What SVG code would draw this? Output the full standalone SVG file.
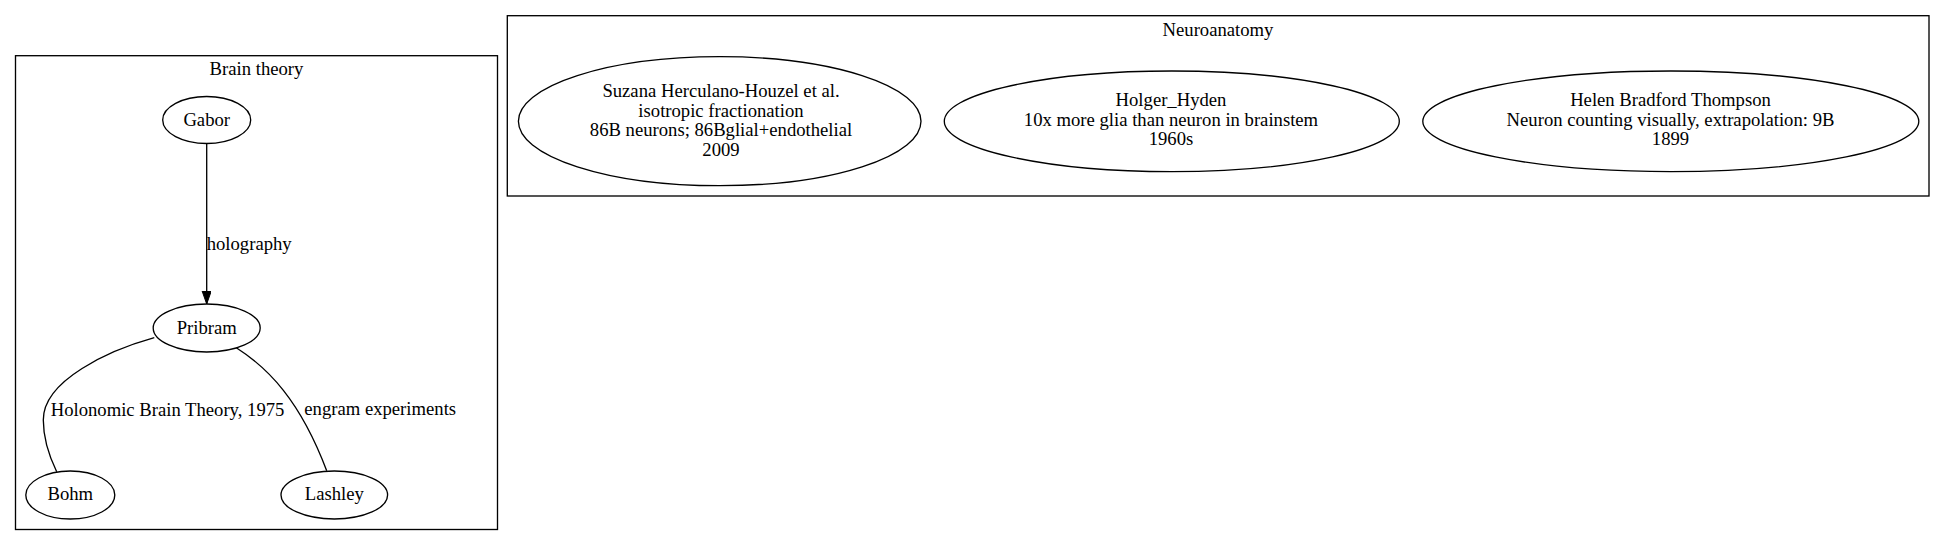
<svg xmlns="http://www.w3.org/2000/svg" width="1945" height="546" viewBox="0 0 1945 546">
<defs>
<style>
text{font-family:"Liberation Serif","Times New Roman",serif;font-size:18.67px;fill:#000}
.c{text-anchor:middle}
.box{fill:none;stroke:#000;stroke-width:1.33}
.n{fill:none;stroke:#000;stroke-width:1.33}
.e{fill:none;stroke:#000;stroke-width:1.33}
</style>
<marker id="arr" markerWidth="14" markerHeight="10" refX="13.3" refY="4.7" orient="auto" markerUnits="userSpaceOnUse">
<path d="M0,0 L13.3,4.7 L0,9.4 Z" fill="#000" stroke="#000" stroke-width="1"/>
</marker>
</defs>
<rect width="1945" height="546" fill="#fff"/>
<g id="cluster_brain">
<rect class="box" x="15.5" y="55.7" width="482" height="473.8"/>
<text class="c" x="256.5" y="75">Brain theory</text>
</g>
<g id="cluster_neuro">
<rect class="box" x="507.3" y="15.7" width="1421.7" height="180.3"/>
<text class="c" x="1218" y="36">Neuroanatomy</text>
</g>
<g id="edges">
<g id="e_gabor_pribram">
<path class="e" d="M206.7,143.5 L206.7,304" marker-end="url(#arr)"/>
<text x="206.7" y="250">holography</text>
</g>
<g id="e_pribram_bohm">
<path class="e" d="M154.3,337.7 C110,350 43,380 43.3,420 C43.3,440 50,458 56.7,471.7"/>
<text x="50.7" y="416">Holonomic Brain Theory, 1975</text>
</g>
<g id="e_pribram_lashley">
<path class="e" d="M236.3,347.7 C268,368 300,400 326.7,470.7"/>
<text x="304.3" y="415">engram experiments</text>
</g>
</g>
<g id="Gabor">
<ellipse class="n" cx="206.7" cy="120" rx="44" ry="23.5"/>
<text class="c" x="206.7" y="126">Gabor</text>
</g>
<g id="Pribram">
<ellipse class="n" cx="206.7" cy="328" rx="53.5" ry="24"/>
<text class="c" x="206.7" y="333.5">Pribram</text>
</g>
<g id="Bohm">
<ellipse class="n" cx="70.3" cy="495" rx="44.5" ry="24"/>
<text class="c" x="70.3" y="500">Bohm</text>
</g>
<g id="Lashley">
<ellipse class="n" cx="334.3" cy="495" rx="53.3" ry="24"/>
<text class="c" x="334.3" y="500">Lashley</text>
</g>
<g id="Suzana">
<ellipse class="n" cx="719.7" cy="121.2" rx="201.3" ry="64.5"/>
<text class="c" x="721" y="97">Suzana Herculano-Houzel et al.</text>
<text class="c" x="721" y="116.5">isotropic fractionation</text>
<text class="c" x="721" y="136">86B neurons; 86Bglial+endothelial</text>
<text class="c" x="721" y="155.5">2009</text>
</g>
<g id="Holger_Hyden">
<ellipse class="n" cx="1171.8" cy="121.3" rx="227.5" ry="50.3"/>
<text class="c" x="1171" y="106">Holger_Hyden</text>
<text class="c" x="1171" y="125.5">10x more glia than neuron in brainstem</text>
<text class="c" x="1171" y="145">1960s</text>
</g>
<g id="Helen">
<ellipse class="n" cx="1670.8" cy="121.3" rx="248" ry="50.3"/>
<text class="c" x="1670.5" y="106">Helen Bradford Thompson</text>
<text class="c" x="1670.5" y="125.5">Neuron counting visually, extrapolation: 9B</text>
<text class="c" x="1670.5" y="145">1899</text>
</g>
</svg>
